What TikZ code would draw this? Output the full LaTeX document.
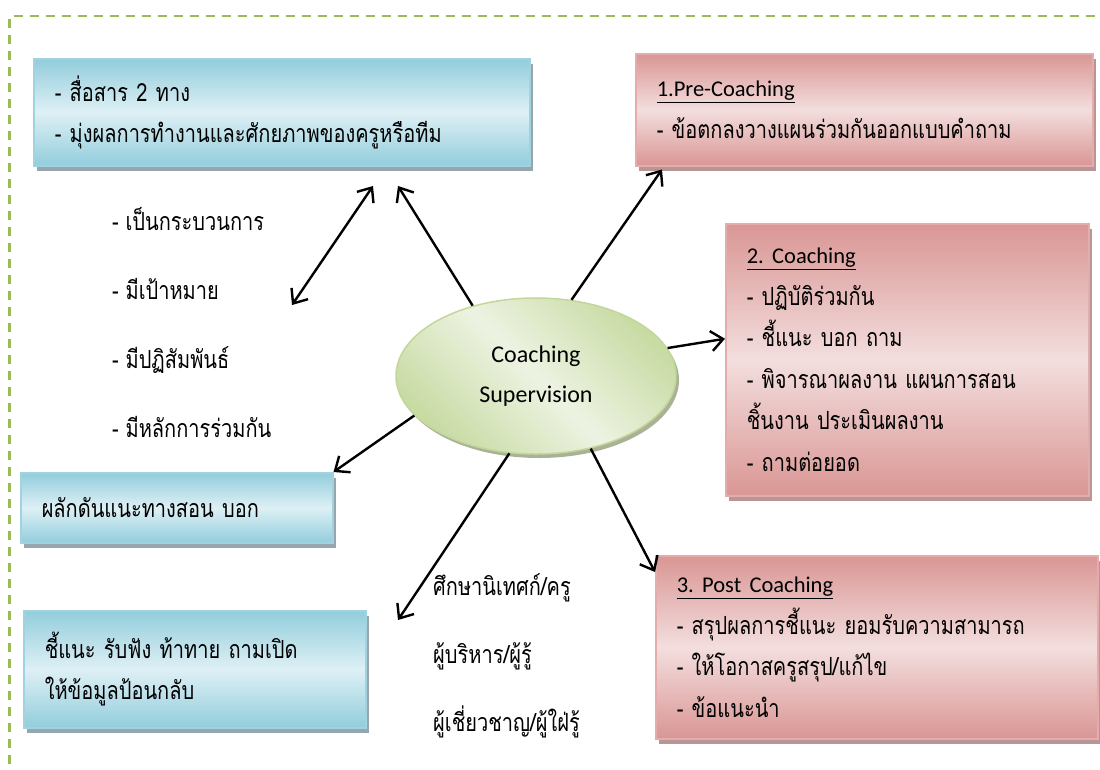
\documentclass[tikz,border=0pt]{standalone}
\usepackage{fontspec}
\newfontfamily\thaifont[Script=Thai, FakeStretch=0.8]{Loma}
\newfontfamily\latinfont{Carlito}
\usetikzlibrary{shapes.geometric,shadows,arrows.meta}

\definecolor{bluedark}{RGB}{146,205,220}
\definecolor{bluelight}{RGB}{222,240,245}
\definecolor{blueline}{RGB}{160,210,224}
\definecolor{blueshadow}{RGB}{150,166,172}
\definecolor{pinkdark}{RGB}{217,150,148}
\definecolor{pinklight}{RGB}{243,222,222}
\definecolor{pinkline}{RGB}{228,172,170}
\definecolor{pinkshadow}{RGB}{184,150,150}
\definecolor{greendark}{RGB}{200,219,163}
\definecolor{greenlight}{RGB}{237,243,226}
\definecolor{greenline}{RGB}{195,214,155}
\definecolor{greenshadow}{RGB}{170,178,150}
\definecolor{framegreen}{RGB}{155,187,89}

\newcommand{\thaitext}{\thaifont\fontsize{25}{41.5}\selectfont}
\newcommand{\headtext}[1]{{\latinfont\fontsize{22.5}{41.5}\selectfont\frenchspacing\underline{#1}}}

\tikzset{
  box/.style={rectangle, anchor=north west, inner xsep=21pt, inner ysep=0pt,
    align=left, line width=1.5pt, font=\thaitext, shading angle=-45},
  bluebox/.style={box, draw=blueline, top color=bluedark, bottom color=bluedark,
    middle color=bluelight,
    drop shadow={fill=blueshadow, opacity=1, shadow xshift=3pt, shadow yshift=-5pt}},
  pinkbox/.style={box, draw=pinkline, top color=pinkdark, bottom color=pinkdark,
    middle color=pinklight,
    drop shadow={fill=pinkshadow, opacity=1, shadow xshift=3pt, shadow yshift=-5pt}},
  hub/.style={ellipse, draw=greenline, line width=1.5pt, top color=greendark,
    bottom color=greendark, middle color=greenlight, shading angle=-45,
    minimum width=280pt, minimum height=156pt, inner sep=0pt, align=center,
    font=\latinfont\fontsize{24}{40}\selectfont,
    drop shadow={fill=greenshadow, opacity=1, shadow xshift=3pt, shadow yshift=-4pt}},
  item/.style={anchor=base west, inner sep=0pt, font=\thaitext}
}

\begin{document}
\begin{tikzpicture}[x=1pt, y=-1pt, line width=2.4pt,
  >={Straight Barb[length=12pt,width=20pt]}]
\useasboundingbox (0,0) rectangle (1100,769);
\draw[framegreen, line width=2.5pt, dash pattern=on 9pt off 7pt] (9.5,780) |- (1110,16);

% boxes
\node[bluebox, minimum width=496pt, minimum height=107pt, text width=454pt] (b_1) at (33,58)
  {- สื่อสาร 2 ทาง\\- มุ่งผลการทำงานและศักยภาพของครูหรือทีม};
\node[pinkbox, minimum width=457pt, minimum height=112pt, text width=415pt] (b_2) at (635,53)
  {\headtext{1.Pre-Coaching}\\- ข้อตกลงวางแผนร่วมกันออกแบบคำถาม};
\node[pinkbox, minimum width=363pt, minimum height=272pt, text width=321pt] (b_3) at (725,223)
  {\headtext{2. Coaching}\\- ปฏิบัติร่วมกัน\\- ชี้แนะ บอก ถาม\\- พิจารณาผลงาน แผนการสอน\\ชิ้นงาน ประเมินผลงาน\\- ถามต่อยอด};
\node[pinkbox, minimum width=442pt, minimum height=183pt, text width=400pt] (b_4) at (655,555)
  {\headtext{3. Post Coaching}\\- สรุปผลการชี้แนะ ยอมรับความสามารถ\\- ให้โอกาสครูสรุป/แก้ไข\\- ข้อแนะนำ};
\node[bluebox, minimum width=312pt, minimum height=70pt, text width=270pt] (b_5) at (20,472)
  {ผลักดันแนะทางสอน บอก};
\node[bluebox, minimum width=342pt, minimum height=117pt, text width=300pt] (b_6) at (23,610)
  {ชี้แนะ รับฟัง ท้าทาย ถามเปิด\\ให้ข้อมูลป้อนกลับ};

\node[hub] (c_0) at (536,376) {Coaching\\Supervision};

% lists
\node[item] (l_1) at (111,230) {- เป็นกระบวนการ};
\node[item] (l_2) at (111,299) {- มีเป้าหมาย};
\node[item] (l_3) at (111,368) {- มีปฏิสัมพันธ์};
\node[item] (l_4) at (111,437) {- มีหลักการร่วมกัน};
\node[item] (w_1) at (432,595) {ศึกษานิเทศก์/ครู};
\node[item] (w_2) at (432,663) {ผู้บริหาร/ผู้รู้};
\node[item] (w_3) at (432,731) {ผู้เชี่ยวชาญ/ผู้ใฝ่รู้};

\coordinate (t_1) at (398,186);
\coordinate (t_2) at (398,620);
\coordinate (d_1) at (373,186);
\coordinate (d_2) at (292,305);

\path[->]
(c_0.132) edge (t_1)
(c_0.65) edge ([xshift=27pt,yshift=-3pt]b_2.south west)
(c_0.12) edge ([yshift=21pt]b_3.west)
(c_0.307) edge ([yshift=-17pt]b_4.north west)
(c_0.251) edge (t_2)
(c_0.198) edge (b_5.north east)
(d_1) edge[<->] (d_2);
\end{tikzpicture}
\end{document}
